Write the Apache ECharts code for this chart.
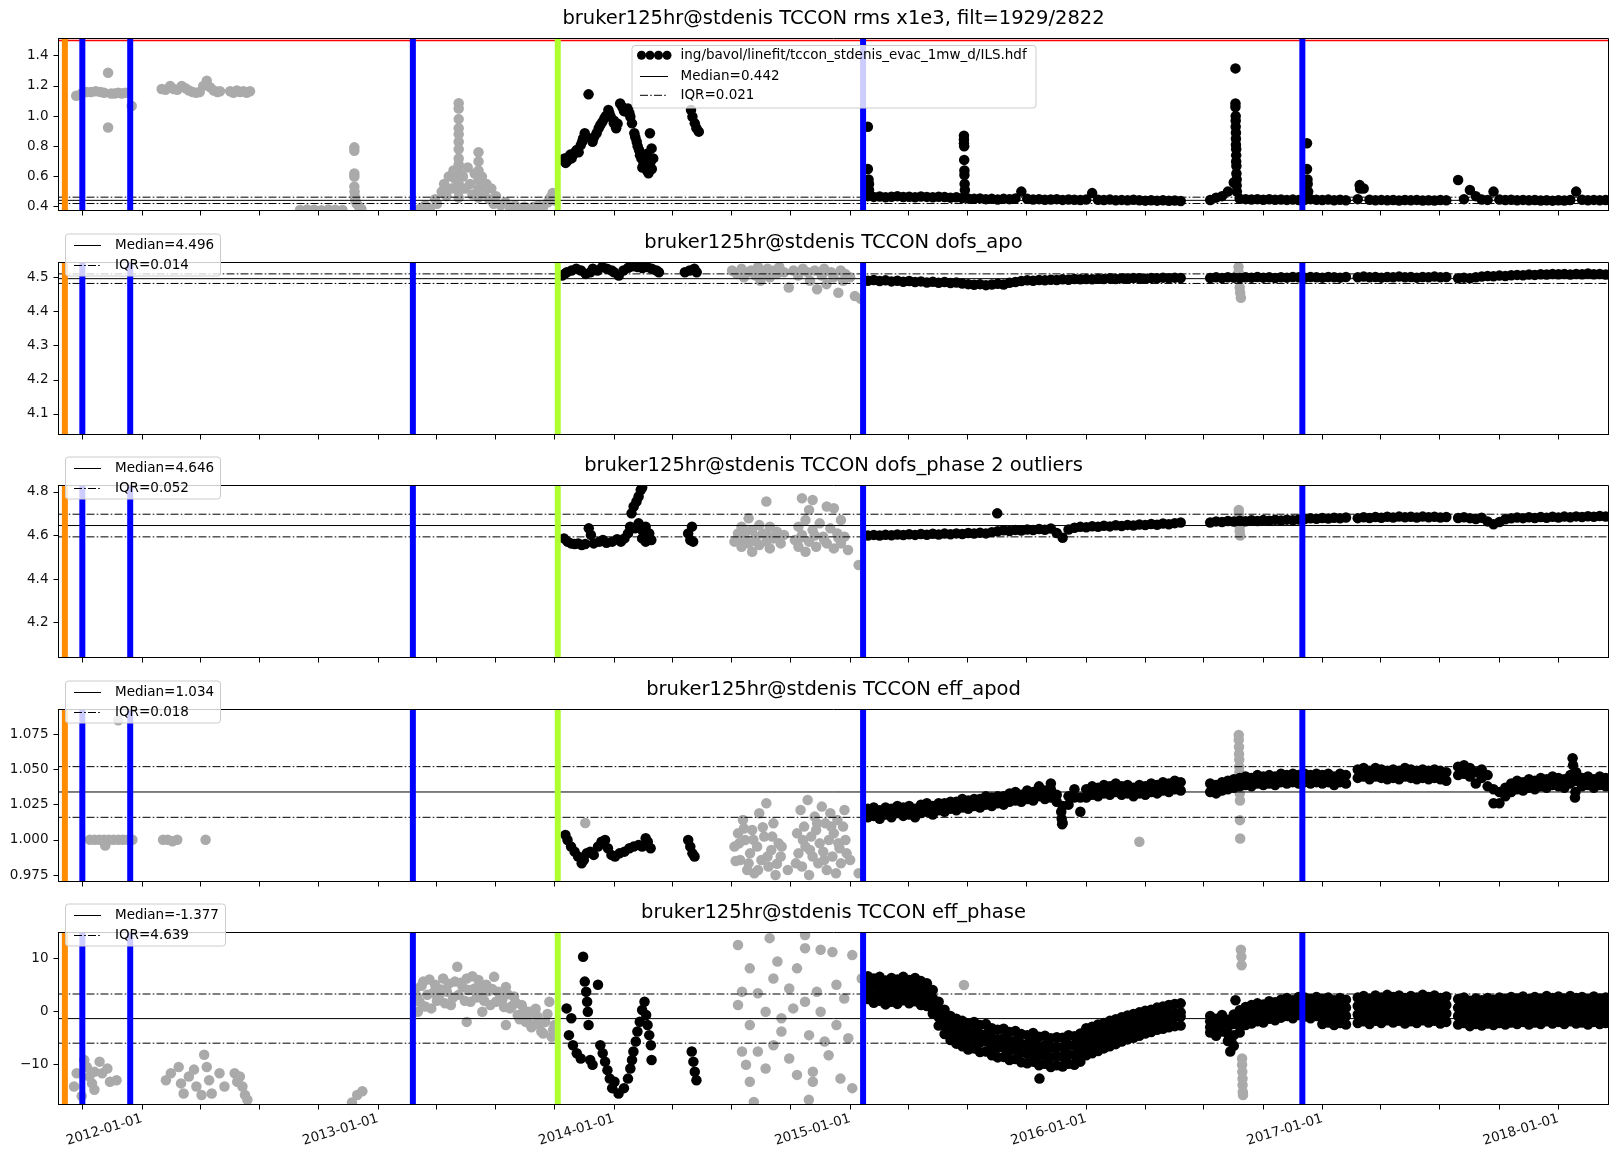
<!DOCTYPE html>
<html>
<head>
<meta charset="utf-8">
<title>bruker125hr@stdenis TCCON ILS diagnostics</title>
<script src="https://cdn.jsdelivr.net/npm/echarts@6.0.0/dist/echarts.min.js"></script>
<style>
html,body{margin:0;padding:0;background:#fff;}
#chart{width:1614px;height:1152px;}
</style>
</head>
<body>
<div id="chart"></div>
<script>
// ================= data (x in decimal years) =================

const sourceLabel = 'ing/bavol/linefit/tccon_stdenis_evac_1mw_d/ILS.hdf';
const titles = [
  'bruker125hr@stdenis TCCON rms x1e3, filt=1929/2822',
  'bruker125hr@stdenis TCCON dofs_apo',
  'bruker125hr@stdenis TCCON dofs_phase 2 outliers',
  'bruker125hr@stdenis TCCON eff_apod',
  'bruker125hr@stdenis TCCON eff_phase'
];
const medians = [0.442, 4.496, 4.646, 1.034, -1.377];
const iqrs = [0.021, 0.014, 0.052, 0.018, 4.639];
const rmsLimit = 1.5;

// instrument events
const orangeDates = ['2011-09-04'];
const blueDates = ['2011-10-01', '2011-12-14', '2013-02-24', '2015-01-21', '2016-12-01'];
const greenDates = ['2013-10-06'];

// tick values
const xLabelYears = [2012, 2013, 2014, 2015, 2016, 2017, 2018];
const rmsTicks = [0.4, 0.6, 0.8, 1.0, 1.2, 1.4];
const dofsApoTicks = [4.1, 4.2, 4.3, 4.4, 4.5];
const dofsPhaseTicks = [4.2, 4.4, 4.6, 4.8];
const effApodTicks = [0.975, 1.0, 1.025, 1.05, 1.075];
const effPhaseTicks = [-10, 0, 10];

// routine measurement epochs after the January 2015 intervention
const bandYears = [
  2015.075,2015.1,2015.125,2015.15,2015.175,2015.2,2015.225,2015.25,2015.275,2015.3,2015.325,2015.35,2015.375,2015.4,2015.425,2015.45,2015.475,2015.5,2015.525,2015.55,2015.575,2015.6,2015.625,2015.65,2015.675,2015.7,2015.725,2015.75,2015.775,2015.8,2015.825,2015.85,2015.875,2015.9,2015.925,2015.95,2015.975,
  2016,2016.025,2016.05,2016.075,2016.1,2016.125,2016.15,2016.175,2016.2,2016.225,2016.25,2016.275,2016.3,2016.325,2016.35,2016.375,2016.4,
  2016.525,2016.55,2016.575,2016.6,2016.625,2016.65,2016.675,2016.7,2016.725,2016.75,2016.775,2016.8,2016.825,2016.85,2016.875,2016.9,2016.925,2016.95,2016.975,
  2017,2017.025,2017.05,2017.075,2017.1,
  2017.15,2017.175,2017.2,2017.225,2017.25,2017.275,2017.3,2017.325,2017.35,2017.375,2017.4,2017.425,2017.45,2017.475,2017.5,2017.525,
  2017.575,2017.6,2017.625,2017.65,2017.675,2017.7,2017.725,2017.75,2017.775,2017.8,2017.825,2017.85,2017.875,2017.9,2017.925,2017.95,2017.975,
  2018,2018.025,2018.05,2018.075,2018.1,2018.125,2018.15,2018.175,2018.2
];

// ---- rms x1e3 ----
const rmsBand = [
  .47,.465,.468,.462,.466,.47,.464,.466,.462,.468,.465,.462,.466,.464,.46,.462,.458,.455,.452,.455,.45,.452,.448,.452,.45,.455,.5,.452,.448,.45,.446,.448,.45,.445,.448,.446,.444,
  .448,.49,.446,.444,.447,.443,.445,.442,.446,.443,.44,.443,.44,.442,.439,.441,.438,
  .444,.46,.47,.5,.56,.452,.45,.448,.45,.446,.449,.446,.448,.445,.447,.444,.446,.45,.446,
  .444,.447,.443,.446,.442,
  .45,.52,.446,.443,.445,.442,.444,.441,.444,.442,.445,.441,.443,.441,.444,.442,
  .577,.45,.51,.47,.448,.445,.5,.447,.444,.446,.443,.445,.442,.444,.441,.443,.44,
  .443,.441,.444,.5,.446,.443,.445,.442,.444
];
const rmsBlack = [
  [2013.782,0.709],[2013.79,0.72],[2013.8,0.7],[2013.809,0.731],[2013.815,0.745],[2013.826,0.742],[2013.835,0.76],[2013.842,0.775],
  [2013.859,0.808],[2013.869,0.852],[2013.876,0.886],[2013.892,1.144],[2013.909,0.83],[2013.926,0.886],[2013.942,0.941],[2013.959,0.985],
  [2013.976,1.04],[2013.986,0.996],[2013.999,0.952],[2014.009,0.919],[2014.026,1.084],[2014.042,1.034],[2014.059,1.051],[2014.069,0.996],
  [2014.076,0.952],[2014.086,0.886],[2014.096,0.83],[2014.106,0.775],[2014.116,0.72],[2014.126,0.687],[2014.136,0.654],[2014.146,0.621],
  [2014.152,0.886],[2014.159,0.786],[2014.166,0.72],[2014.12,0.66],[2014.13,0.71],[2014.14,0.75],[2014.15,0.68],
  [2013.795,0.69],[2013.82,0.72],[2013.85,0.76],[2013.865,0.83],[2013.88,0.86],[2013.915,0.86],[2013.935,0.92],[2013.95,0.96],
  [2013.965,1.0],[2013.98,1.02],[2014.0,0.97],[2014.015,0.95],[2014.035,1.06],[2014.05,1.03],[2014.065,1.02],[2014.09,0.86],
  [2014.1,0.8],[2014.11,0.74],[2014.125,0.7],[2014.14,0.64],[2014.155,0.7],[2014.16,0.65],
  [2014.326,1.04],[2014.332,0.996],[2014.342,0.952],[2014.349,0.919],[2014.359,0.897],
  [2015.075,0.93],[2015.075,0.65],[2015.078,0.58],[2015.08,0.55],[2015.08,0.51],
  [2015.482,0.87],[2015.482,0.845],[2015.482,0.82],[2015.483,0.8],[2015.483,0.71],[2015.484,0.64],[2015.484,0.61],[2015.485,0.55],[2015.486,0.51],
  [2016.632,1.316],[2016.632,1.084],[2016.632,1.06],[2016.633,1.0],[2016.633,0.97],[2016.633,0.93],[2016.634,0.89],[2016.634,0.85],
  [2016.634,0.81],[2016.635,0.78],[2016.635,0.74],[2016.635,0.7],[2016.636,0.67],[2016.636,0.62],[2016.637,0.58],[2016.637,0.54],[2016.638,0.5],
  [2016.935,0.82],[2016.935,0.65],[2016.937,0.58],[2016.938,0.55],[2016.94,0.5],
  [2017.158,0.543],[2017.16,0.52]
];
const rmsGrey = [
  [2011.722,1.135],[2011.745,1.15],[2011.765,1.16],[2011.785,1.16],[2011.805,1.165],[2011.825,1.16],[2011.84,1.155],[2011.857,1.287],
  [2011.857,0.925],[2011.87,1.15],[2011.885,1.15],[2011.9,1.155],[2011.915,1.15],[2011.93,1.155],[2011.957,1.067],
  [2012.084,1.18],[2012.1,1.175],[2012.12,1.2],[2012.135,1.18],[2012.15,1.175],[2012.169,1.2],[2012.185,1.185],[2012.2,1.17],
  [2012.215,1.16],[2012.23,1.155],[2012.245,1.16],[2012.26,1.2],[2012.275,1.234],[2012.29,1.19],[2012.305,1.17],[2012.32,1.16],[2012.331,1.165],
  [2012.374,1.165],[2012.388,1.155],[2012.402,1.17],[2012.416,1.16],[2012.43,1.165],[2012.444,1.155],[2012.458,1.165],
  [2012.67,0.378],[2012.7,0.382],[2012.73,0.38],[2012.76,0.377],[2012.79,0.381],[2012.82,0.38],[2012.85,0.378],
  [2012.9,0.793],[2012.9,0.77],[2012.9,0.62],[2012.9,0.6],[2012.9,0.533],[2012.901,0.5],[2012.902,0.467],[2012.905,0.44],[2012.91,0.42],[2012.92,0.4],[2012.93,0.385],
  [2013.176,0.385],[2013.2,0.41],[2013.22,0.385],[2013.242,0.45],[2013.25,0.42],[2013.27,0.5],[2013.28,0.55],[2013.29,0.47],[2013.3,0.6],
  [2013.31,0.52],[2013.32,0.64],[2013.33,0.58],
  [2013.342,1.085],[2013.342,1.05],[2013.342,0.98],[2013.342,0.92],[2013.342,0.88],[2013.342,0.83],[2013.342,0.78],[2013.342,0.72],
  [2013.342,0.68],[2013.342,0.63],[2013.342,0.59],[2013.342,0.55],[2013.342,0.5],[2013.342,0.46],
  [2013.36,0.6],[2013.37,0.52],[2013.38,0.66],[2013.39,0.55],[2013.4,0.48],[2013.41,0.62],
  [2013.426,0.76],[2013.426,0.7],[2013.426,0.64],[2013.426,0.58],[2013.426,0.52],[2013.426,0.46],
  [2013.44,0.6],[2013.45,0.5],[2013.46,0.55],[2013.47,0.45],[2013.48,0.52],[2013.49,0.42],[2013.5,0.47],[2013.52,0.41],[2013.54,0.43],
  [2013.56,0.385],[2013.58,0.41],[2013.6,0.385],[2013.62,0.4],[2013.64,0.385],[2013.66,0.4],[2013.68,0.41],[2013.7,0.4],[2013.72,0.43],
  [2013.73,0.46],[2013.74,0.49],[2013.75,0.44]
];

// ---- dofs_apo ----
const dofsApoBand = [
  4.49,4.492,4.489,4.491,4.488,4.49,4.487,4.489,4.486,4.488,4.485,4.487,4.484,4.486,4.483,4.485,4.482,4.48,4.478,4.48,4.477,4.479,4.481,4.479,4.484,4.486,4.489,4.491,4.49,4.492,4.491,4.493,4.492,4.494,4.493,4.495,4.494,
  4.495,4.494,4.496,4.495,4.497,4.495,4.497,4.496,4.498,4.497,4.496,4.498,4.497,4.499,4.497,4.499,4.498,
  4.498,4.5,4.498,4.5,4.499,4.498,4.5,4.499,4.501,4.499,4.5,4.498,4.5,4.499,4.501,4.5,4.499,4.501,4.5,
  4.499,4.501,4.5,4.499,4.501,
  4.5,4.502,4.5,4.501,4.499,4.501,4.5,4.502,4.5,4.501,4.499,4.501,4.5,4.502,4.5,4.501,
  4.497,4.499,4.497,4.5,4.502,4.504,4.503,4.505,4.504,4.506,4.507,4.506,4.508,4.507,4.509,4.508,4.51,
  4.509,4.51,4.508,4.51,4.509,4.511,4.509,4.51,4.508
];
const dofsApoBlack = [
  [2013.78,4.505],[2013.79,4.51],[2013.8,4.515],[2013.82,4.52],[2013.84,4.525],[2013.86,4.52],[2013.88,4.51],[2013.9,4.515],
  [2013.91,4.525],[2013.93,4.52],[2013.95,4.53],[2013.97,4.525],[2013.99,4.52],[2014.0,4.515],[2014.02,4.505],[2014.04,4.52],
  [2014.06,4.528],[2014.08,4.532],[2014.1,4.53],[2014.12,4.527],[2014.14,4.53],[2014.16,4.525],[2014.18,4.52],[2014.19,4.515],
  [2014.3,4.515],[2014.32,4.52],[2014.34,4.525],[2014.35,4.515]
];
const dofsApoGrey = [
  [2014.5,4.52],[2014.52,4.51],[2014.54,4.525],[2014.55,4.5],[2014.57,4.515],[2014.58,4.52],[2014.6,4.505],[2014.61,4.53],
  [2014.62,4.49],[2014.64,4.515],[2014.65,4.525],[2014.66,4.5],[2014.68,4.52],[2014.69,4.51],[2014.7,4.53],[2014.72,4.515],
  [2014.74,4.47],[2014.76,4.52],[2014.78,4.505],[2014.8,4.525],[2014.82,4.515],[2014.83,4.49],[2014.85,4.52],[2014.86,4.465],
  [2014.88,4.505],[2014.89,4.525],[2014.9,4.48],[2014.92,4.515],[2014.93,4.5],[2014.95,4.455],[2014.96,4.52],[2014.97,4.49],
  [2014.98,4.51],[2015.0,4.5],[2015.02,4.445],[2015.045,4.437],
  [2016.645,4.53],[2016.645,4.515],[2016.648,4.495],[2016.65,4.47],[2016.652,4.455],[2016.655,4.44]
];

// ---- dofs_phase ----
const dofsPhaseBand = [
  4.6,4.603,4.6,4.604,4.601,4.605,4.602,4.606,4.603,4.607,4.604,4.608,4.605,4.609,4.606,4.61,4.607,4.612,4.609,4.613,4.61,4.615,4.62,4.624,4.621,4.626,4.623,4.628,4.625,4.63,4.627,4.632,4.612,4.59,4.628,4.636,4.64,
  4.638,4.643,4.64,4.645,4.642,4.647,4.644,4.649,4.646,4.651,4.648,4.653,4.65,4.655,4.652,4.657,4.66,
  4.66,4.665,4.662,4.667,4.664,4.668,4.666,4.67,4.667,4.671,4.668,4.672,4.669,4.673,4.67,4.674,4.676,4.679,4.677,
  4.681,4.678,4.682,4.679,4.683,
  4.68,4.684,4.681,4.685,4.682,4.686,4.683,4.687,4.684,4.686,4.683,4.687,4.684,4.686,4.683,4.685,
  4.681,4.684,4.68,4.676,4.682,4.665,4.652,4.662,4.675,4.679,4.683,4.68,4.684,4.681,4.685,4.682,4.686,
  4.683,4.687,4.684,4.688,4.685,4.689,4.686,4.69,4.687
];
const dofsPhaseBlack = [
  [2013.788,4.587],[2013.803,4.572],[2013.818,4.564],[2013.833,4.561],[2013.848,4.564],[2013.863,4.557],[2013.878,4.561],[2013.893,4.633],
  [2013.902,4.603],[2013.914,4.564],[2013.938,4.572],[2013.953,4.58],[2013.968,4.567],[2013.992,4.572],[2014.013,4.583],[2014.029,4.572],
  [2014.044,4.587],[2014.059,4.61],[2014.068,4.641],[2014.074,4.702],[2014.083,4.733],[2014.095,4.756],[2014.104,4.779],[2014.113,4.809],
  [2014.119,4.821],[2014.089,4.633],[2014.104,4.656],[2014.119,4.625],[2014.134,4.641],[2014.149,4.61],[2014.158,4.58],[2014.134,4.572],
  [2014.119,4.587],[2014.314,4.61],[2014.323,4.58],[2014.33,4.641],[2014.335,4.572],
  [2015.623,4.702]
];
const dofsPhaseGrey = [
  [2014.51,4.572],[2014.525,4.61],[2014.54,4.641],[2014.54,4.549],[2014.555,4.587],[2014.57,4.679],[2014.57,4.564],[2014.585,4.625],
  [2014.585,4.526],[2014.6,4.595],[2014.615,4.648],[2014.615,4.557],[2014.63,4.61],[2014.645,4.756],[2014.645,4.572],[2014.66,4.641],
  [2014.66,4.541],[2014.675,4.587],[2014.69,4.618],[2014.706,4.564],[2014.72,4.603],[2014.766,4.58],[2014.781,4.641],[2014.781,4.549],
  [2014.796,4.771],[2014.796,4.603],[2014.811,4.671],[2014.811,4.526],[2014.826,4.717],[2014.826,4.572],[2014.841,4.763],[2014.841,4.625],
  [2014.856,4.549],[2014.871,4.656],[2014.886,4.595],[2014.901,4.733],[2014.901,4.564],[2014.916,4.633],[2014.931,4.725],[2014.931,4.541],
  [2014.946,4.61],[2014.961,4.671],[2014.961,4.564],[2014.976,4.595],[2014.991,4.534],[2015.036,4.465],
  [2014.53,4.59],[2014.56,4.62],[2014.6,4.575],[2014.65,4.6],[2014.7,4.585],[2014.79,4.59],[2014.85,4.6],[2014.89,4.58],[2014.95,4.59],
  [2016.646,4.717],[2016.646,4.7],[2016.648,4.68],[2016.648,4.66],[2016.65,4.64],[2016.65,4.62],[2016.652,4.6]
];

// ---- eff_apod (two retrievals per epoch) ----
const effApodA = [
  1.022,1.023,1.021,1.023,1.022,1.024,1.023,1.024,1.022,1.025,1.026,1.024,1.026,1.026,1.027,1.027,1.029,1.028,1.029,1.029,1.031,1.03,1.031,1.031,1.033,1.034,1.032,1.035,1.034,1.038,1.035,1.036,1.032,1.024,1.031,1.036,1.03,
  1.036,1.038,1.037,1.039,1.038,1.04,1.038,1.039,1.037,1.039,1.038,1.04,1.039,1.041,1.04,1.042,1.041,
  1.04,1.039,1.041,1.042,1.043,1.044,1.045,1.044,1.046,1.045,1.046,1.045,1.047,1.046,1.047,1.046,1.047,1.046,1.047,
  1.046,1.047,1.045,1.047,1.046,
  1.05,1.051,1.049,1.051,1.05,1.049,1.05,1.049,1.051,1.05,1.049,1.05,1.049,1.05,1.049,1.048,
  1.052,1.053,1.051,1.048,1.05,1.046,1.036,1.034,1.037,1.04,1.042,1.041,1.043,1.042,1.044,1.043,1.045,
  1.044,1.043,1.046,1.048,1.044,1.045,1.043,1.045,1.044
];
const effApodB = [
  1.016,1.017,1.015,1.018,1.016,1.019,1.017,1.018,1.016,1.019,1.02,1.018,1.021,1.02,1.022,1.021,1.023,1.022,1.024,1.023,1.025,1.024,1.026,1.025,1.027,1.028,1.027,1.029,1.028,1.031,1.029,1.03,1.027,1.012,1.025,1.03,1.02,
  1.03,1.032,1.031,1.033,1.032,1.034,1.032,1.033,1.031,1.033,1.032,1.034,1.033,1.035,1.034,1.036,1.035,
  1.034,1.033,1.035,1.036,1.037,1.038,1.039,1.038,1.04,1.039,1.04,1.039,1.041,1.04,1.041,1.04,1.041,1.04,1.041,
  1.04,1.041,1.039,1.041,1.04,
  1.044,1.045,1.043,1.045,1.044,1.043,1.044,1.043,1.045,1.044,1.043,1.044,1.043,1.044,1.043,1.042,
  1.046,1.047,1.045,1.04,1.044,1.038,1.026,1.026,1.031,1.034,1.036,1.035,1.037,1.036,1.038,1.037,1.039,
  1.038,1.037,1.04,1.042,1.038,1.039,1.037,1.039,1.038
];
const effApodBlack = [
  [2013.794,1.0035],[2013.803,0.9999],[2013.818,0.9952],[2013.833,0.9916],[2013.848,0.9881],[2013.863,0.9833],[2013.872,0.9857],
  [2013.884,0.9904],[2013.899,0.9916],[2013.914,0.9893],[2013.932,0.9952],[2013.947,0.9987],[2013.962,0.9999],[2013.974,0.994],
  [2013.989,0.9893],[2014.004,0.9881],[2014.023,0.9904],[2014.044,0.9916],[2014.065,0.994],[2014.083,0.9952],[2014.104,0.9964],
  [2014.119,0.9952],[2014.134,1.0011],[2014.143,0.9987],[2014.155,0.994],
  [2014.314,0.9999],[2014.323,0.9952],[2014.332,0.9904],[2014.341,0.9881],
  [2015.85,1.04],[2015.894,1.02],[2015.896,1.015],[2015.898,1.011],
  [2018.06,1.058],[2018.062,1.053],[2018.07,1.03],[2018.072,1.034]
];
const effApodGrey = [
  [2011.78,1.0],[2011.8,1.0],[2011.82,1.0],[2011.84,1.0],[2011.845,0.996],[2011.86,1.0],[2011.88,1.0],[2011.9,1.0],[2011.92,1.0],
  [2011.94,1.0],[2011.96,1.0],[2011.9,1.085],[2012.09,1.0],[2012.11,1.0],[2012.13,0.999],[2012.15,1.0],[2012.27,1.0],
  [2013.878,1.012],
  [2014.51,0.9952],[2014.525,1.0046],[2014.534,0.9857],[2014.546,1.0141],[2014.555,0.9999],[2014.564,0.9786],[2014.576,0.9904],
  [2014.585,1.007],[2014.594,0.9762],[2014.606,0.9952],[2014.615,1.0189],[2014.624,0.9857],[2014.636,1.0023],[2014.645,1.026],
  [2014.654,0.981],[2014.666,0.9928],[2014.675,1.0117],[2014.684,0.975],[2014.697,0.9975],[2014.706,0.9881],[2014.736,0.9786],
  [2014.775,1.0046],[2014.781,0.9904],[2014.79,1.0212],[2014.796,0.981],[2014.805,1.0094],[2014.811,0.9952],[2014.82,1.0283],
  [2014.826,0.975],[2014.835,1.0023],[2014.841,0.9881],[2014.85,1.0165],[2014.856,1.007],[2014.865,0.9833],[2014.871,0.9975],
  [2014.88,1.0236],[2014.886,0.9916],[2014.895,1.0117],[2014.901,0.9786],[2014.91,0.9999],[2014.916,1.0189],[2014.925,0.9881],
  [2014.931,1.0046],[2014.94,0.9762],[2014.946,1.0141],[2014.955,0.994],[2014.961,0.9833],[2014.97,1.0094],[2014.976,1.0212],
  [2014.985,0.9904],[2015.036,0.9762],
  [2014.515,0.985],[2014.53,0.9975],[2014.55,1.008],[2014.57,0.9833],[2014.59,1.0],[2014.61,0.9786],[2014.63,1.009],[2014.65,0.9881],
  [2014.67,1.0023],[2014.69,0.983],[2014.71,0.9952],[2014.77,0.9833],[2014.8,0.9999],[2014.83,0.9928],[2014.86,1.0117],[2014.89,0.9857],
  [2014.92,1.0094],[2014.95,0.9975],[2014.98,0.9999],[2015.0,0.9857],
  [2016.225,0.9987],
  [2016.646,1.0745],[2016.646,1.071],[2016.647,1.066],[2016.647,1.061],[2016.648,1.057],[2016.648,1.052],[2016.649,1.048],
  [2016.649,1.043],[2016.65,1.038],[2016.65,1.033],[2016.651,1.028],[2016.651,1.014],[2016.652,1.001]
];

// ---- eff_phase (four retrievals per epoch, highest to lowest) ----
const effPhaseA = [
  6.6,6.2,6.5,5.8,6.3,6.0,6.5,5.9,6.3,5.7,5.3,4.0,1.8,0.3,-0.9,-1.4,-1.8,-2.3,-2.0,-2.6,-2.4,-3.2,-3.5,-3.3,-3.9,-3.7,-4.3,-4.5,-4.1,-4.8,-4.6,-5.1,-4.9,-5.0,-4.5,-4.7,-4.2,
  -3.2,-2.9,-2.5,-2.2,-1.8,-1.5,-1.1,-0.8,-0.5,-0.2,0.1,0.3,0.7,0.9,1.2,1.4,1.5,
  -0.9,-1.4,-0.7,-1.6,-0.6,0.2,0.8,1.2,1.5,1.3,1.9,1.7,2.2,2.5,2.1,2.7,2.6,2.3,2.7,
  2.3,2.6,2.1,2.5,2.2,
  2.6,2.9,2.4,3.0,2.6,3.1,2.7,3.0,2.5,2.9,2.6,3.1,2.7,3.0,2.5,2.8,
  2.3,2.6,2.0,2.4,2.1,2.5,2.2,2.6,2.3,2.7,2.4,2.8,2.3,2.7,2.4,2.9,2.5,
  2.8,2.4,2.9,2.5,2.7,2.3,2.8,2.4,2.6
];
const effPhaseB = [
  5.2,4.8,5.1,4.4,4.9,4.6,5.1,4.5,4.9,4.3,3.9,2.5,0.2,-1.3,-2.6,-3.1,-3.5,-4.1,-3.8,-4.4,-4.3,-5.0,-5.3,-5.1,-5.7,-5.5,-6.1,-6.3,-5.9,-6.6,-6.4,-6.9,-6.7,-6.8,-6.3,-6.5,-6.0,
  -4.9,-4.6,-4.2,-3.9,-3.5,-3.2,-2.8,-2.5,-2.2,-1.9,-1.6,-1.4,-1.0,-0.8,-0.5,-0.3,-0.2,
  -1.9,-2.5,-1.7,-2.9,-2.4,-1.2,-0.3,0.0,0.4,0.2,0.8,0.6,1.1,1.4,1.0,1.6,1.4,1.1,1.5,
  0.8,1.1,0.6,1.0,0.7,
  1.0,1.3,0.8,1.4,1.0,1.5,1.1,1.4,0.9,1.3,1.0,1.5,1.1,1.4,0.9,1.2,
  0.7,1.0,0.4,0.8,0.5,0.9,0.6,1.0,0.7,1.1,0.8,1.2,0.7,1.1,0.8,1.3,0.9,
  1.2,0.8,1.3,0.9,1.1,0.7,1.2,0.8,1.0
];
const effPhaseC = [
  3.7,3.0,3.4,2.7,3.2,2.8,3.5,2.9,3.3,2.6,2.4,1.0,-1.1,-2.7,-3.8,-4.4,-4.9,-5.5,-5.2,-5.9,-5.7,-6.5,-6.9,-6.8,-7.4,-7.2,-7.8,-8.0,-7.7,-8.4,-8.1,-8.7,-8.4,-8.6,-8.1,-8.3,-7.7,
  -6.6,-6.2,-5.8,-5.3,-4.9,-4.5,-4.0,-3.6,-3.3,-2.9,-2.5,-2.2,-1.8,-1.6,-1.3,-1.1,-1.0,
  -3.0,-3.5,-2.8,-4.3,-4.5,-2.8,-1.5,-1.1,-0.7,-0.9,-0.3,-0.5,0.0,0.3,-0.1,0.5,0.2,-0.1,0.3,
  -0.8,-0.5,-1.0,-0.6,-0.9,
  -0.6,-0.3,-0.8,-0.2,-0.6,-0.1,-0.5,-0.2,-0.7,-0.3,-0.6,-0.1,-0.5,-0.2,-0.7,-0.4,
  -0.9,-0.6,-1.2,-0.8,-1.1,-0.7,-1.0,-0.6,-0.9,-0.5,-0.8,-0.4,-0.9,-0.5,-0.8,-0.3,-0.7,
  -0.4,-0.8,-0.3,-0.7,-0.5,-0.9,-0.4,-0.8,-0.6
];
const effPhaseD = [
  2.3,1.6,2.0,1.3,1.8,1.4,2.1,1.5,1.9,1.2,1.0,-0.4,-2.7,-4.3,-5.4,-6.1,-6.6,-7.2,-7.0,-7.7,-7.6,-8.3,-8.7,-8.6,-9.2,-9.0,-9.6,-9.8,-9.5,-10.2,-9.9,-10.5,-10.2,-10.4,-9.9,-10.1,-9.5,
  -8.3,-7.9,-7.5,-7.0,-6.6,-6.2,-5.7,-5.3,-5.0,-4.6,-4.2,-3.9,-3.5,-3.3,-3.0,-2.8,-2.7,
  -4.0,-4.6,-3.8,-5.6,-6.5,-4.0,-2.6,-2.3,-1.9,-2.1,-1.4,-1.7,-1.2,-0.9,-1.3,-0.7,-1.0,-1.3,-0.9,
  -2.4,-2.1,-2.6,-2.2,-2.5,
  -2.2,-1.9,-2.4,-1.8,-2.2,-1.7,-2.1,-1.8,-2.3,-1.9,-2.2,-1.7,-2.1,-1.8,-2.3,-2.0,
  -2.5,-2.2,-2.8,-2.4,-2.7,-2.3,-2.6,-2.2,-2.5,-2.1,-2.4,-2.0,-2.5,-2.1,-2.4,-1.9,-2.3,
  -2.0,-2.4,-1.9,-2.3,-2.1,-2.5,-2.0,-2.4,-2.2
];
const effPhaseBlack = [
  [2013.799,0.55],[2013.809,-4.5],[2013.819,-1.3],[2013.826,-6.4],[2013.842,-7.9],[2013.859,-8.9],[2013.869,10.3],[2013.876,5.6],
  [2013.882,3.7],[2013.886,1.8],[2013.889,-0.07],[2013.892,-2.6],[2013.899,-9.2],[2013.909,-10.1],[2013.932,5.0],[2013.942,-6.4],
  [2013.952,-7.9],[2013.962,-9.5],[2013.972,-11.1],[2013.982,-12.7],[2013.992,-14.5],[2014.002,-13.3],[2014.019,-15.5],[2014.042,-14.5],
  [2014.059,-12.7],[2014.069,-10.8],[2014.076,-9.2],[2014.082,-7.6],[2014.092,-5.7],[2014.099,-3.8],[2014.109,-1.96],[2014.119,0.24],
  [2014.129,1.8],[2014.136,-0.7],[2014.142,-2.6],[2014.149,-4.5],[2014.156,-6.4],[2014.159,-9.2],
  [2014.329,-7.6],[2014.336,-9.5],[2014.342,-11.4],[2014.349,-13.0],
  [2015.802,-12.7],[2016.61,-7.6],[2016.615,-5.8],[2016.632,2.1]
];
const effPhaseGrey = [
  [2011.724,-11.7],[2011.756,-9.2],[2011.767,-10.5],[2011.778,-12.3],[2011.789,-13.6],[2011.799,-11.4],[2011.821,-9.5],[2011.832,-11.7],
  [2011.854,-10.8],[2011.865,-13.3],[2011.893,-13.0],[2011.745,-16.0],[2011.799,-14.8],[2011.713,-14.2],
  [2012.102,-13.0],[2012.123,-11.7],[2012.156,-10.5],[2012.166,-13.6],[2012.199,-12.3],[2012.221,-11.0],[2012.231,-14.2],[2012.264,-8.2],
  [2012.275,-10.5],[2012.285,-13.0],[2012.296,-15.5],[2012.329,-11.7],[2012.35,-14.2],[2012.393,-11.7],[2012.404,-13.3],[2012.426,-14.2],
  [2012.437,-15.8],[2012.447,-16.7],[2012.415,-12.3],[2012.253,-15.8],[2012.177,-15.5],
  [2012.912,-15.8],[2012.934,-15.1],[2012.89,-17.2],
  [2013.159,4.3],[2013.176,1.8],[2013.192,5.6],[2013.209,3.1],[2013.226,0.55],[2013.242,5.0],[2013.259,2.4],[2013.276,6.2],
  [2013.292,3.7],[2013.309,1.2],[2013.326,5.6],[2013.336,8.4],[2013.342,3.1],[2013.359,4.6],[2013.376,6.2],[2013.392,1.8],
  [2013.409,4.3],[2013.426,5.9],[2013.442,3.1],[2013.459,5.0],[2013.476,1.2],[2013.492,6.5],[2013.509,3.7],[2013.526,2.1],
  [2013.542,4.6],[2013.559,0.55],[2013.576,2.8],[2013.592,-0.7],[2013.609,1.2],[2013.626,-2.0],[2013.642,-0.07],[2013.659,-2.6],
  [2013.676,-1.0],[2013.692,-3.8],[2013.709,-2.0],[2013.726,1.8],[2013.736,-4.8],[2013.749,-2.6],[2013.169,-0.07],[2013.376,-2.0],
  [2013.442,-0.07],[2013.542,-2.6],
  [2013.165,2.8],[2013.185,4.8],[2013.2,0.9],[2013.218,6.0],[2013.234,3.5],[2013.25,2.0],[2013.268,4.1],[2013.284,1.5],[2013.3,5.2],
  [2013.318,2.6],[2013.35,5.4],[2013.368,2.0],[2013.384,4.0],[2013.4,6.6],[2013.418,2.6],[2013.434,4.4],[2013.45,2.0],[2013.468,3.8],
  [2013.484,4.2],[2013.5,1.8],[2013.518,3.0],[2013.534,0.8],[2013.55,3.2],[2013.568,1.0],[2013.584,1.6],[2013.6,-1.5],[2013.618,0.2],
  [2013.634,-1.2],[2013.65,-3.0],[2013.668,0.5],[2013.684,-2.2],[2013.7,-4.2],[2013.718,-0.5],[2013.742,-3.5],
  [2014.525,12.5],[2014.659,13.8],[2014.809,14.4],[2014.809,11.9],[2014.875,11.6],[2014.925,11.2],[2014.575,8.1],[2014.675,6.2],
  [2014.742,4.3],[2014.542,3.7],[2014.809,1.8],[2014.642,-0.07],[2014.875,-0.07],[2014.575,-2.6],[2014.709,-3.8],[2014.826,-4.5],
  [2014.609,-7.6],[2014.742,-8.9],[2014.559,-10.1],[2014.842,-11.4],[2014.642,-10.8],[2014.575,-13.3],[2014.842,-13.3],[2014.825,-16.7],
  [2014.592,-17.1],[2015.009,10.6],[2015.049,6.2],[2014.692,9.4],[2014.775,8.1],[2014.942,5.0],[2014.975,2.4],[2014.525,1.2],
  [2014.709,-1.3],[2014.942,-2.6],[2014.992,-5.1],[2014.675,-6.4],[2014.909,-8.3],[2014.542,-7.6],[2014.775,-12.0],[2014.959,-12.7],
  [2015.009,-14.5],[2014.609,3.4],[2014.859,3.7],[2014.759,0.55],[2014.892,-5.7],
  [2015.482,4.96],
  [2016.655,11.6],[2016.657,10.3],[2016.658,8.7],[2016.66,-8.9],[2016.66,-10.1],[2016.661,-11.4],[2016.662,-12.7],[2016.662,-13.9],
  [2016.663,-15.2],[2016.664,-15.8]
];

// ================= chart =================

const FONT = '"DejaVu Sans", "Liberation Sans", sans-serif';
const GREY = '#aaaaaa';
const DOT = 10.5;
const DASHDOT = [8, 2.2, 1.6, 2.2];
const L = 58.5, W = 1550, H = 172;
const TOPS = [38.5, 262.5, 485.5, 709.5, 932.5];
const X_MIN = 2011.647, X_MAX = 2018.212;

function dateToYear(s) {
  const [y, m, d] = s.split('-').map(Number);
  const t0 = Date.UTC(y, 0, 1), t1 = Date.UTC(y + 1, 0, 1);
  return y + (Date.UTC(y, m - 1, d) - t0) / (t1 - t0);
}
function band(values) {
  return bandYears.map((y, i) => [y, values[i]]).filter(d => d[1] != null);
}

const panels = [
  { grey: rmsGrey, black: band(rmsBand).concat(rmsBlack), ticks: rmsTicks, dec: 1, yMin: 0.3748, yMax: 1.5139 },
  { grey: dofsApoGrey, black: band(dofsApoBand).concat(dofsApoBlack), ticks: dofsApoTicks, dec: 1, yMin: 4.04, yMax: 4.5433 },
  { grey: dofsPhaseGrey, black: band(dofsPhaseBand).concat(dofsPhaseBlack), ticks: dofsPhaseTicks, dec: 1, yMin: 4.0402, yMax: 4.8298 },
  { grey: effApodGrey, black: band(effApodA).concat(band(effApodB), effApodBlack), ticks: effApodTicks, dec: 3, yMin: 0.9704, yMax: 1.0926 },
  { grey: effPhaseGrey, black: band(effPhaseA).concat(band(effPhaseB), band(effPhaseC), band(effPhaseD), effPhaseBlack), ticks: effPhaseTicks, dec: 0, yMin: -17.585, yMax: 14.868 }
];

// quarterly minor ticks
const quarterTicks = [];
for (let y = 2011; y <= 2018; y++) {
  for (const m of [1, 4, 7, 10]) {
    const v = dateToYear(`${y}-${String(m).padStart(2, '0')}-01`);
    if (v >= X_MIN && v <= X_MAX) quarterTicks.push(v);
  }
}

const grids = [], xAxes = [], yAxes = [], series = [], graphics = [];

panels.forEach((p, i) => {
  const top = TOPS[i];
  grids.push({ left: L, top: top, width: W, height: H, containLabel: false });

  xAxes.push({
    type: 'value', gridIndex: i, min: X_MIN, max: X_MAX, z: 25,
    axisLine: { show: true, onZero: false, lineStyle: { color: '#000', width: 1 } },
    axisTick: { show: true, customValues: quarterTicks, length: 5, lineStyle: { color: '#000', width: 1 } },
    axisLabel: {
      show: i === panels.length - 1,
      customValues: xLabelYears,
      formatter: v => `${Math.round(v)}-01-01`,
      rotate: 17, margin: 14,
      fontFamily: FONT, fontSize: 13.5, color: '#111'
    },
    splitLine: { show: false }
  });

  yAxes.push({
    type: 'value', gridIndex: i, min: p.yMin, max: p.yMax, z: 25,
    axisLine: { show: true, onZero: false, lineStyle: { color: '#000', width: 1 } },
    axisTick: { show: true, customValues: p.ticks, length: 5, lineStyle: { color: '#000', width: 1 } },
    axisLabel: {
      customValues: p.ticks,
      formatter: v => v.toFixed(p.dec).replace('-', '\u2212'),
      margin: 10, fontFamily: FONT, fontSize: 13.5, color: '#111'
    },
    splitLine: { show: false }
  });

  const base = { xAxisIndex: i, yAxisIndex: i, silent: true, animation: false };

  series.push(Object.assign({}, base, {
    type: 'scatter', data: p.grey, symbol: 'circle', symbolSize: DOT,
    itemStyle: { color: GREY, opacity: 1 }, z: 2
  }));

  const hline = (v, dash) => Object.assign({}, base, {
    type: 'line', data: [[X_MIN, v], [X_MAX, v]], symbol: 'none',
    lineStyle: { color: '#000', width: 1, type: dash }, z: 3
  });
  series.push(hline(medians[i], 'solid'));
  series.push(hline(medians[i] + iqrs[i], DASHDOT));
  series.push(hline(medians[i] - iqrs[i], DASHDOT));

  series.push(Object.assign({}, base, {
    type: 'scatter', data: p.black, symbol: 'circle', symbolSize: DOT,
    itemStyle: { color: '#000', opacity: 1 }, z: 4
  }));

  if (i === 0) {
    series.push(Object.assign({}, base, {
      type: 'line', data: [[X_MIN, rmsLimit], [X_MAX, rmsLimit]], symbol: 'none',
      lineStyle: { color: '#ff0000', width: 1.5 }, z: 4
    }));
  }

  const vline = (dateStr, color) => {
    const x = dateToYear(dateStr);
    return Object.assign({}, base, {
      type: 'line', data: [[x, p.yMin], [x, p.yMax]], symbol: 'none',
      lineStyle: { color: color, width: 6 }, z: 5
    });
  };
  orangeDates.forEach(d => series.push(vline(d, '#ff8c00')));
  blueDates.forEach(d => series.push(vline(d, '#0000ff')));
  greenDates.forEach(d => series.push(vline(d, '#adff2f')));

  // white margins so markers are cut at the frame edges
  const mask = (x, y, w, h) => ({
    type: 'rect', silent: true, z: 15, shape: { x: x, y: y, width: w, height: h }, style: { fill: '#fff' }
  });
  graphics.push(mask(L - 8, top - 8, W + 16, 8));
  graphics.push(mask(L - 8, top + H, W + 16, 8));
  graphics.push(mask(L - 8, top, 8, H));
  graphics.push(mask(L + W, top, 8, H));

  // frame
  graphics.push({
    type: 'rect', silent: true, z: 20,
    shape: { x: L, y: top, width: W, height: H },
    style: { fill: 'none', stroke: '#000', lineWidth: 1 }
  });
  // title
  graphics.push({
    type: 'text', silent: true, z: 20, x: L + W / 2, y: top - 20,
    style: { text: titles[i], font: `19.5px ${FONT}`, fill: '#000', align: 'center', verticalAlign: 'middle' }
  });

  // legend
  const txt = (s, x, y) => ({
    type: 'text', silent: true, z: 32, x: x, y: y,
    style: { text: s, font: `13.5px ${FONT}`, fill: '#000', align: 'left', verticalAlign: 'middle' }
  });
  const sample = (x1, x2, y, dash) => ({
    type: 'line', silent: true, z: 32,
    shape: { x1: x1, y1: y, x2: x2, y2: y },
    style: { stroke: '#000', lineWidth: 1, lineDash: dash }
  });
  const medText = 'Median=' + medians[i].toFixed(3);
  const iqrText = 'IQR=' + iqrs[i].toFixed(3);
  if (i === 0) {
    graphics.push({
      type: 'rect', silent: true, z: 30,
      shape: { x: 632, y: 45.5, width: 404, height: 62.5, r: 3 },
      style: { fill: 'rgba(255,255,255,0.8)', stroke: '#cccccc', lineWidth: 1 }
    });
    [641.5, 650, 658.5, 667].forEach(cx => graphics.push({
      type: 'circle', silent: true, z: 32, shape: { cx: cx, cy: 55.3, r: 4.5 }, style: { fill: '#000' }
    }));
    graphics.push(txt(sourceLabel, 680.5, 55.3));
    graphics.push(sample(640, 668, 76.5, null));
    graphics.push(txt(medText, 680.5, 76.5));
    graphics.push(sample(640, 668, 95.3, DASHDOT));
    graphics.push(txt(iqrText, 680.5, 95.3));
  } else {
    graphics.push({
      type: 'rect', silent: true, z: 30,
      shape: { x: 65.5, y: top - 28.5, width: i === 4 ? 160 : 155, height: 42, r: 3 },
      style: { fill: 'rgba(255,255,255,0.8)', stroke: '#cccccc', lineWidth: 1 }
    });
    graphics.push(sample(74, 101, top - 17, null));
    graphics.push(txt(medText, 115, top - 17));
    graphics.push(sample(74, 101, top + 3, DASHDOT));
    graphics.push(txt(iqrText, 115, top + 3));
  }
});

const chart = echarts.init(document.getElementById('chart'), null, { renderer: 'canvas' });
chart.setOption({
  animation: false,
  backgroundColor: '#ffffff',
  grid: grids,
  xAxis: xAxes,
  yAxis: yAxes,
  series: series,
  graphic: { elements: graphics }
});
</script>
</body>
</html>
